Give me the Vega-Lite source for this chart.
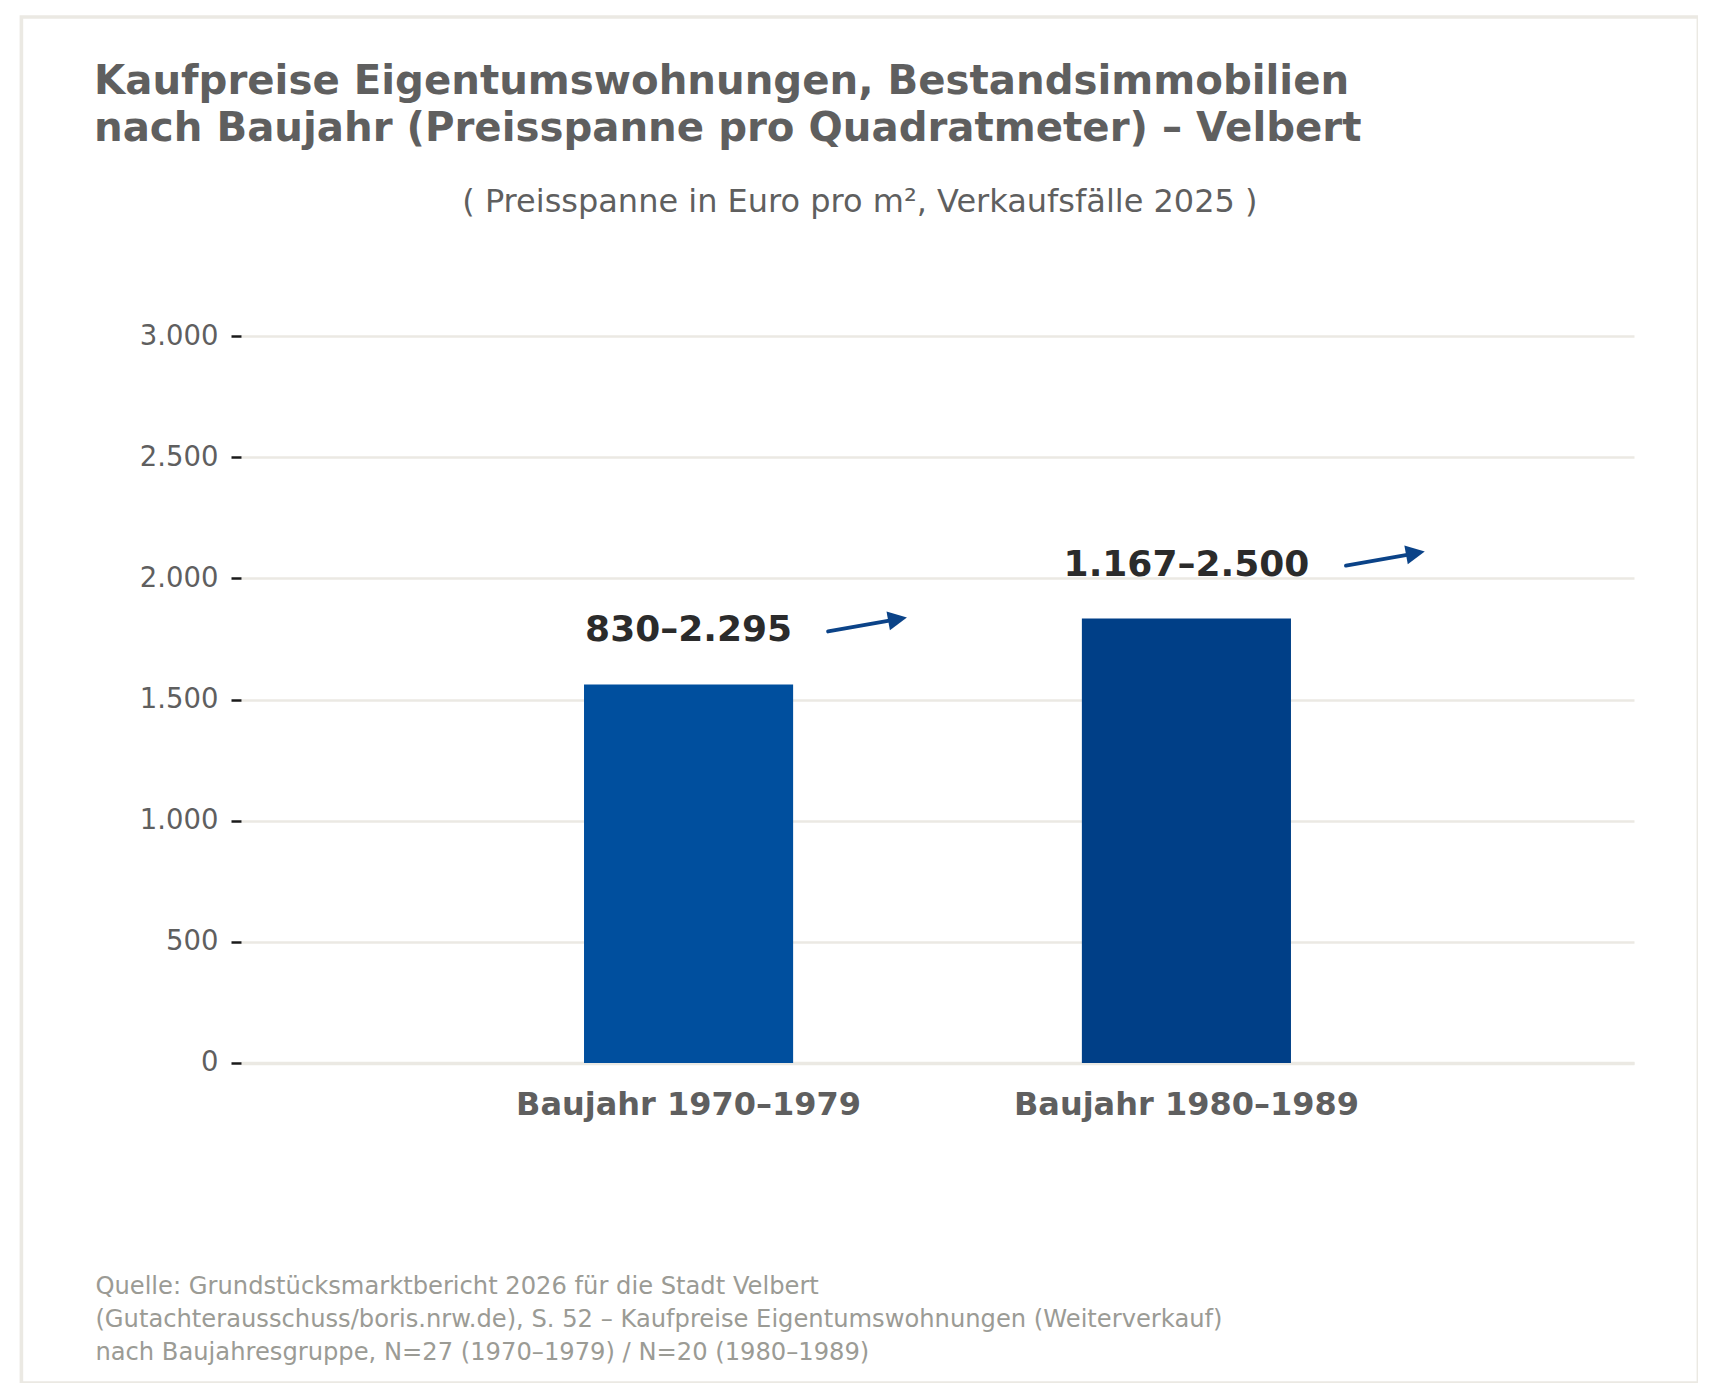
{
  "$schema": "https://vega.github.io/schema/vega-lite/v6.json",
  "width": 1677,
  "height": 1366,
  "autosize": {"type": "none"},
  "padding": {"left": 21.4, "top": 17, "right": 0, "bottom": 0},
  "background": "white",
  "title": {
    "text": "( Preisspanne in Euro pro m², Verkaufsfälle 2025 )",
    "anchor": "middle",
    "frame": "group",
    "offset": 0,
    "dy": 227,
    "baseline": "alphabetic",
    "font": "DejaVu Sans",
    "fontSize": 32,
    "fontWeight": "normal",
    "color": "#5f5f5f",
    "limit": 2000
  },
  "data": {
    "values": [
      {"baujahr": "Baujahr 1970–1979", "mitte": 1562, "spanne": "830–2.295"},
      {"baujahr": "Baujahr 1980–1989", "mitte": 1834, "spanne": "1.167–2.500"}
    ]
  },
  "encoding": {
    "x": {
      "field": "baujahr",
      "type": "nominal",
      "sort": null,
      "scale": {"range": [219.6, 1612.6], "paddingInner": 0.58, "paddingOuter": 0.689},
      "axis": {
        "orient": "bottom",
        "offset": -320,
        "domain": true,
        "domainColor": "#ebe9e3",
        "domainWidth": 3.5,
        "ticks": false,
        "tickSize": 0,
        "grid": false,
        "labelAngle": 0,
        "labelLimit": 0,
        "labelFont": "DejaVu Sans",
        "labelFontSize": 32,
        "labelFontWeight": "bold",
        "labelColor": "#5f5f5f",
        "labelPadding": 27,
        "title": [
          "Quelle: Grundstücksmarktbericht 2026 für die Stadt Velbert",
          "(Gutachterausschuss/boris.nrw.de), S. 52 – Kaufpreise Eigentumswohnungen (Weiterverkauf)",
          "nach Baujahresgruppe, N=27 (1970–1979) / N=20 (1980–1989)"
        ],
        "titleX": 73.5,
        "titleY": 231,
        "titleAlign": "left",
        "titleAnchor": "start",
        "titleBaseline": "alphabetic",
        "titleFont": "DejaVu Sans",
        "titleFontSize": 24.2,
        "titleFontWeight": "normal",
        "titleColor": "#9b9b95",
        "titleLineHeight": 33,
        "titleLimit": 2000
      }
    },
    "y": {
      "field": "mitte",
      "type": "quantitative",
      "scale": {"domain": [0, 3000], "range": [1046, 319], "nice": false},
      "axis": {
        "values": [0, 500, 1000, 1500, 2000, 2500, 3000],
        "labelExpr": "replace(format(datum.value, ','), ',', '.')",
        "offset": -219.6,
        "domain": false,
        "ticks": true,
        "tickSize": 10,
        "tickColor": "#1a1a1a",
        "tickWidth": 2.5,
        "grid": true,
        "gridColor": "#ebe9e3",
        "gridWidth": 2.5,
        "labelFont": "DejaVu Sans",
        "labelFontSize": 27.5,
        "labelColor": "#5f5f5f",
        "labelPadding": 13,
        "title": [
          "Kaufpreise Eigentumswohnungen, Bestandsimmobilien",
          "nach Baujahr (Preisspanne pro Quadratmeter) – Velbert"
        ],
        "titleX": -147.5,
        "titleY": 76.3,
        "titleAngle": 0,
        "titleAlign": "left",
        "titleBaseline": "alphabetic",
        "titleFont": "DejaVu Sans",
        "titleFontSize": 40.3,
        "titleFontWeight": "bold",
        "titleColor": "#5f5f5f",
        "titleLineHeight": 47,
        "titleLimit": 2000
      }
    }
  },
  "layer": [
    {
      "mark": {"type": "bar"},
      "encoding": {
        "color": {
          "field": "baujahr",
          "type": "nominal",
          "scale": {"range": ["#004f9e", "#003f87"]},
          "legend": null
        }
      }
    },
    {
      "mark": {
        "type": "text",
        "baseline": "alphabetic",
        "dy": -43,
        "font": "DejaVu Sans",
        "fontSize": 36,
        "fontWeight": "bold",
        "color": "#2b2b2b"
      },
      "encoding": {"text": {"field": "spanne", "type": "nominal"}}
    },
    {
      "mark": {
        "type": "rule",
        "color": "#0b4388",
        "strokeWidth": 3.8,
        "strokeCap": "round",
        "xOffset": {"expr": "10*length(datum.spanne)+49.5"},
        "x2Offset": {"expr": "10*length(datum.spanne)+115"},
        "yOffset": -53,
        "y2Offset": -64.5
      },
      "encoding": {
        "x": {"field": "baujahr", "type": "nominal", "bandPosition": 0.5},
        "x2": {"field": "baujahr", "bandPosition": 0.5},
        "y2": {"field": "mitte"}
      }
    },
    {
      "mark": {
        "type": "point",
        "shape": "M-1,-1L1,0L-1,1Z",
        "size": 361,
        "filled": true,
        "opacity": 1,
        "color": "#0b4388",
        "angle": -10.3,
        "xOffset": {"expr": "10*length(datum.spanne)+119"},
        "yOffset": -65.3
      }
    }
  ],
  "config": {
    "view": {"stroke": "#ebe9e3", "strokeWidth": 3.6, "fill": "white"},
    "font": "DejaVu Sans"
  }
}
